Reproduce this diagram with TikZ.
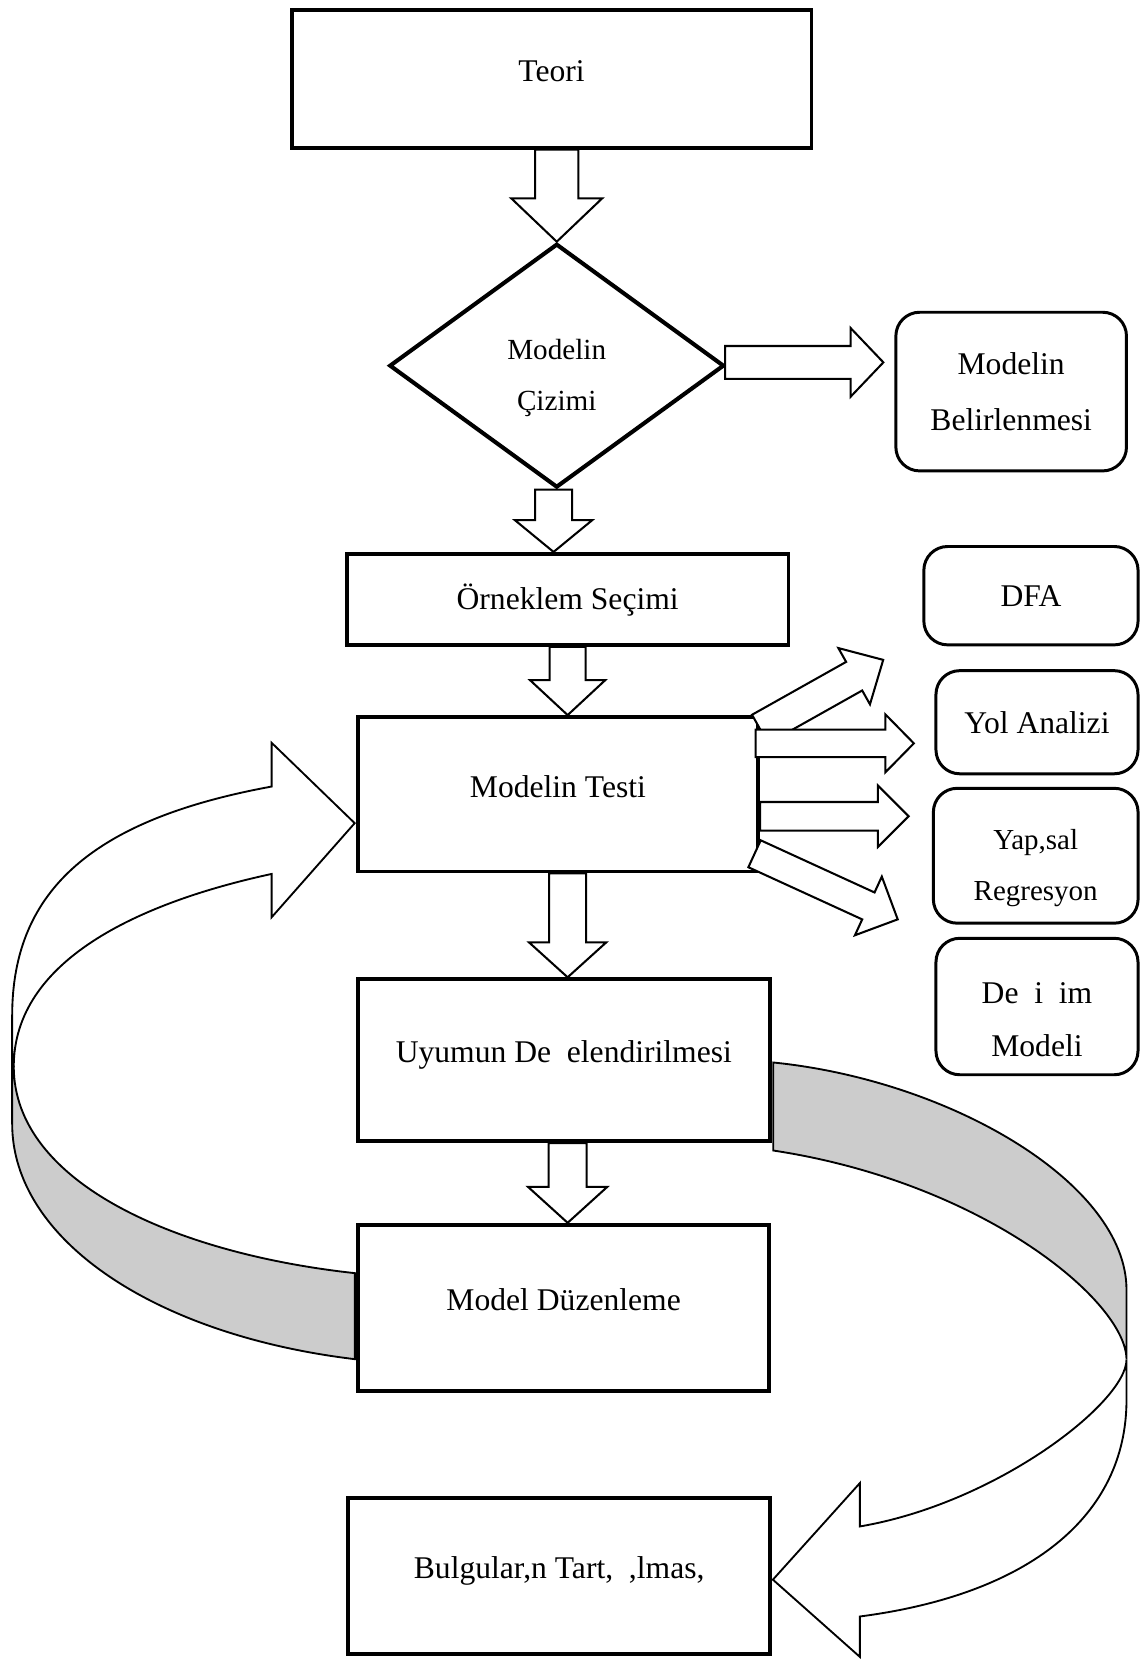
\documentclass[tikz,border=0pt]{standalone}
\usepackage{fontspec}
\setmainfont{Liberation Serif}
\usetikzlibrary{shapes.geometric,calc}
\definecolor{bandgray}{gray}{0.8}
\newcommand{\boxfont}{\fontsize{17}{30}\selectfont}
\newcommand{\diafont}{\fontsize{15.7}{27.5}\selectfont}
\pgfdeclarelayer{background}
\pgfsetlayers{background,main}
% block arrow: [style]{from}{to}{half shaft}{half head}{head length}
\newcommand{\fatarrow}[6][]{%
  \coordinate (fa neck) at ($(#3)!#6!(#2)$);
  \draw[flow,#1] ($(#2)!#4!90:(#3)$) -- ($(fa neck)!#4!-90:(#2)$)
    -- ($(fa neck)!#5!-90:(#2)$) -- (#3) -- ($(fa neck)!#5!90:(#2)$)
    -- ($(fa neck)!#4!90:(#2)$) -- ($(#2)!#4!-90:(#3)$) -- cycle;}

\begin{document}
\begin{tikzpicture}[x=0.02cm, y=-0.02cm,
    mainbox/.style={draw, line width=2.1pt, fill=white, inner sep=0pt, font=\boxfont, text height=12pt, text depth=9pt},
    softbox/.style={draw, line width=1.6pt, fill=white, rounded corners=0.45cm, inner sep=0pt, align=center, font=\boxfont},
    choice/.style={draw, diamond, line width=2.2pt, fill=white, inner sep=0pt, align=center, font=\diafont},
    flow/.style={draw, line width=1.1pt, fill=white},
    band/.style={draw, line width=1pt, fill=white},
    bandback/.style={band, fill=bandgray}]
    \useasboundingbox (0,0) rectangle (1077,1568);

    \node[mainbox, minimum width=9.83cm, minimum height=2.6cm] (teori) at (521.3,74.6) {Teori};
    \node[choice, minimum width=6.33cm, minimum height=4.61cm] (cizim) at (526.2,345.6) {\rule{0pt}{23.7pt}Modelin\\Çizimi};
    \node[softbox, minimum width=4.36cm, minimum height=3cm] (belir) at (955.7,370.1) {Modelin\\Belirlenmesi};
    \node[mainbox, minimum width=8.35cm, minimum height=1.72cm, text depth=1pt] (orn) at (536.5,566.5) {Örneklem Seçimi};
    \node[softbox, minimum width=4.05cm, minimum height=1.86cm] (dfa) at (974.4,563) {DFA};
    \node[mainbox, minimum width=7.57cm, minimum height=2.92cm] (test) at (527.3,750.7) {Modelin Testi};
    \node[softbox, minimum width=3.82cm, minimum height=1.95cm] (yol) at (980.1,682.6) {Yol Analizi};
    \node[softbox, minimum width=3.87cm, minimum height=2.55cm, font={\fontsize{15.6}{27.8}\selectfont}] (yap) at (978.9,808.8) {\rule{0pt}{24pt}Yap,sal\\Regresyon};
    \node[softbox, minimum width=3.82cm, minimum height=2.58cm, font={\fontsize{17}{28.6}\selectfont}] (deg) at (980.1,951.3) {\rule{0pt}{25.4pt}De\ \ i\ \ im\\Modeli};
    \node[mainbox, minimum width=7.79cm, minimum height=3.06cm] (uyum) at (532.9,1002) {Uyumun De\ \ elendirilmesi};
    \node[mainbox, minimum width=7.78cm, minimum height=3.15cm] (duz) at (532.7,1236.3) {Model Düzenleme};
    \node[mainbox, minimum width=7.98cm, minimum height=2.94cm] (bulg) at (528.5,1489.5) {Bulgular,n Tart,\ \ ,lmas,};

    % down the main column
    \coordinate (a1s) at (cizim.north |- teori.south);
    \fatarrow{a1s}{cizim.north}{0.41cm}{0.86cm}{0.82cm}
    \coordinate (a2s) at ($(cizim.south)+(-3,0)$);
    \coordinate (a2e) at ($(cizim.south |- orn.north)+(-3,0)$);
    \fatarrow{a2s}{a2e}{0.35cm}{0.73cm}{0.6cm}
    \coordinate (a3e) at (orn.south |- test.north);
    \fatarrow{orn.south}{a3e}{0.34cm}{0.71cm}{0.66cm}
    \coordinate (a4s) at (orn.south |- test.south);
    \coordinate (a4e) at (orn.south |- uyum.north);
    \fatarrow{a4s}{a4e}{0.35cm}{0.73cm}{0.66cm}
    \coordinate (a5s) at (orn.south |- uyum.south);
    \coordinate (a5e) at (orn.south |- duz.north);
    \fatarrow{a5s}{a5e}{0.36cm}{0.75cm}{0.68cm}

    \coordinate (b1s) at ($(cizim.east)+(-1,-3.1)$);
    \coordinate (b1e) at ($(cizim.east -| belir.west)+(-10.4,-3.1)$);
    \fatarrow{b1s}{b1e}{0.31cm}{0.65cm}{0.62cm}

    % out of the test box
    \coordinate (r1s) at ($(test.north east)+(0,13.2)$);
    \coordinate (r1e) at ($(test.north east)+(116.4,-52.2)$);
    \coordinate (r2s) at ($(test.north east)+(-4.1,26.7)$);
    \coordinate (r2e) at ($(test.north east -| yol.west)+(-19.5,26.7)$);
    \coordinate (r3s) at ($(test.east)+(0,20.8)$);
    \coordinate (r3e) at ($(test.east -| yap.west)+(-22,20.8)$);
    \coordinate (r4s) at ($(test.south east)+(-5.2,-18.6)$);
    \coordinate (r4e) at ($(test.south east)+(130.1,43.4)$);
    \fatarrow{r1s}{r1e}{0.31cm}{0.61cm}{0.63cm}
    \fatarrow{r2s}{r2e}{0.26cm}{0.55cm}{0.54cm}
    \fatarrow{r4s}{r4e}{0.28cm}{0.61cm}{0.61cm}
    \fatarrow{r3s}{r3e}{0.27cm}{0.58cm}{0.58cm}

    \begin{pgfonlayer}{background}
        % back to the test
        \coordinate (lhead) at ($(test.west)+(-1,27.3)$);
        \coordinate (ltop) at ($(duz.west)+(-1,-33)$);
        \coordinate (lbot) at ($(duz.west)+(-1,48.3)$);
        \draw[bandback] (13,1008) .. controls (13,1118) and (167,1185) .. (ltop) -- (lbot)
            .. controls (147,1262) and (11.5,1172) .. (11.5,1062) -- (11.5,1008) -- cycle;
        \draw[band] (11.5,1008) -- (11.5,960) .. controls (11.5,840) and (90,774) .. (256.7,743.4)
            -- (256.7,702) -- (lhead) -- (256.7,867) -- (256.7,826)
            .. controls (130.6,853.3) and (13,908) .. (13,1008) -- cycle;

        % on to the findings
        \coordinate (rtop) at ($(uyum.east)+(1.4,2.2)$);
        \coordinate (rbot) at ($(uyum.east)+(1.4,85.4)$);
        \coordinate (rhead) at ($(bulg.east)+(0.7,3.5)$);
        \draw[bandback] (rtop) .. controls (899,1021.2) and (1064.7,1119) .. (1064.7,1219) -- (1064.7,1285)
            .. controls (1064.7,1230) and (929,1117.4) .. (rbot) -- cycle;
        \draw[band] (1064.7,1285) -- (1064.7,1323) .. controls (1064.7,1433) and (972.7,1507) .. (812.7,1527.8)
            -- (812.7,1566) -- (rhead) -- (812.7,1401.7) -- (812.7,1442.7)
            .. controls (942.7,1420.6) and (1064.7,1325) .. (1064.7,1285) -- cycle;
    \end{pgfonlayer}
\end{tikzpicture}
\end{document}
